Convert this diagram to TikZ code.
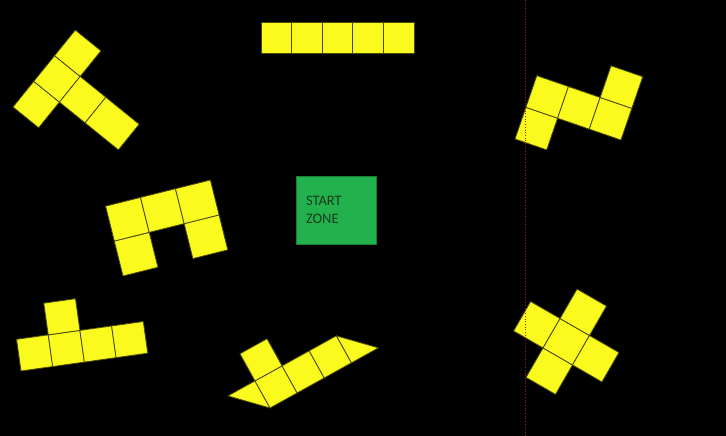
\documentclass[tikz,border=0pt]{standalone}
\usepackage{fontspec}
\setmainfont{Carlito}
\usepackage{tikz}
\usetikzlibrary{positioning}
\definecolor{board}{HTML}{000000}
\definecolor{tile}{HTML}{FAFA1E}
\definecolor{tileedge}{HTML}{4A4A08}
\definecolor{zone}{HTML}{22B14C}
\definecolor{zoneink}{HTML}{173A1F}
\definecolor{guide}{HTML}{B01818}
\tikzset{
  cell/.style={fill=tile,draw=tileedge,line width=0.8pt,line join=round},
  startzone/.style={fill=zone,draw=zone!70!black,line width=0.4pt,
                    minimum width=80pt,minimum height=68pt,text width=60pt,
                    inner xsep=10pt,align=left,text=zoneink,
                    font=\fontsize{14.5}{18}\selectfont},
  guideline/.style={guide,dotted,line width=0.7pt},
}
% one piece: origin, turn, cell size, list of x/y/width
\newcommand{\piece}[4]{%
  \begin{scope}[shift={#1},rotate=#2,scale=#3]
    \foreach \cx/\cy/\cw in {#4}
      \filldraw[cell] (\cx,\cy) rectangle ++(\cw,1);
  \end{scope}}

\begin{document}
\begin{tikzpicture}[x=1pt,y=1pt]
    \useasboundingbox (0,0) rectangle (726,436);
    \fill[board] (0,0) rectangle (726,436);
    % the loose pieces round the start zone
    \piece{(13,329)}{-39}{33}{0/0/1,0/1/1,0/2/1,1/1/1,2/1/1.3}
    \piece{(261,383)}{0}{30.6}{0/0/1,1/0/1,2/0/1,3/0/1,4/0/1}
    \piece{(515,297)}{-19}{33.5}{0/0/1,0/1/1,1/1/1,2/1/1,2/2/1}
    \piece{(123,160)}{14}{36}{0/0/1,2/0/1,0/1/1,1/1/1,2/1/1}
    \piece{(21,65)}{8}{32}{0/0/1,1/0/1,2/0/1,3/0/1,1/1/1}
    \begin{scope}[shift={(270,28)},rotate=29,scale=31]
      \filldraw[cell] (0,0) -- (0,1) -- (-1,1) -- cycle;
      \filldraw[cell] (3,0) -- (3,1) -- (4,0) -- cycle;
    \end{scope}
    \piece{(270,28)}{29}{31}{0/0/1,1/0/1,2/0/1,0/1/1}
    \piece{(496.6,75.6)}{-30}{34}{1/0/1,0/1/1,1/1/1,2/1/1,1/2/1}
    % start zone
    \node[startzone] (start) at (336,226) {START\\ZONE};
    % faint guide line
    \coordinate (gtop) at (525,436);
    \coordinate (gbot) at (525,0);
    \draw[guideline] (gtop) -- (gbot);
  \end{tikzpicture}
\end{document}
